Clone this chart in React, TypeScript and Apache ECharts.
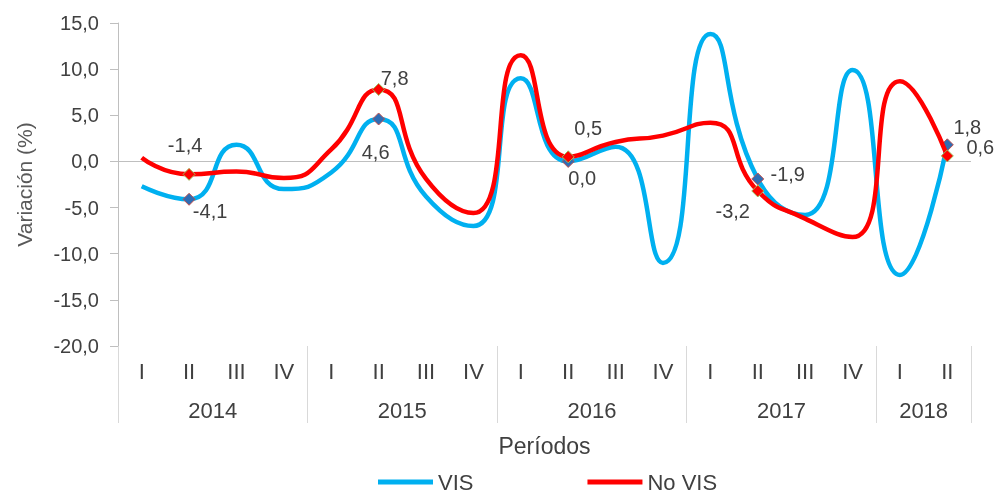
import React, { useEffect, useRef } from "react";
import * as echarts from "echarts";

const quarters = ["I", "II", "III", "IV", "I", "II", "III", "IV", "I", "II", "III", "IV", "I", "II", "III", "IV", "I", "II"];
const years = ["2014", "2015", "2016", "2017", "2018"];
const quartersPerYear = [4, 4, 4, 4, 2];
const vis = [-2.7, -4.1, 1.8, -3.0, -1.2, 4.6, -3.8, -7.0, 9.0, 0.0, 1.6, -11.0, 13.8, -1.9, -5.8, 9.9, -12.3, 1.8];
const noVis = [0.4, -1.4, -1.1, -1.8, 1.3, 7.8, -1.9, -5.6, 11.5, 0.5, 2.1, 2.8, 4.2, -3.2, -6.2, -8.2, 8.7, 0.6];
const labeledIdx = [1, 5, 9, 13, 17];

// label text-centre offsets from the point (style only)
const visLabelOffsets: Record<number, [number, number]> = {
  1: [21, 12], 5: [-3, 33], 9: [14, 17], 13: [30, -5], 17: [20, -18],
};
const noVisLabelOffsets: Record<number, [number, number]> = {
  1: [-4, -29], 5: [16, -11], 9: [20, -29], 13: [-25, 20], 17: [33, -9],
};

const FONT = "Liberation Sans, Arial, sans-serif";
const TXT = "#404040";
const AXIS = "#BFBFBF";
const fmt = (v: number) => v.toFixed(1).replace(".", ",");

export default function App() {
  const ref = useRef<HTMLDivElement>(null);
  useEffect(() => {
    if (!ref.current) return;
    const chart = echarts.init(ref.current, null, { renderer: "svg" });

    const bounds: number[] = [0];
    const mids: number[] = [];
    let acc = 0;
    quartersPerYear.forEach((n) => {
      mids.push(acc + n / 2);
      acc += n;
      bounds.push(acc);
    });

    const mkData = (arr: number[], offs: Record<number, [number, number]>) =>
      arr.map((v, i) =>
        labeledIdx.includes(i)
          ? {
              value: v,
              label: {
                show: true,
                position: "inside",
                offset: offs[i],
                formatter: () => fmt(v),
                color: TXT,
                fontSize: 20,
                fontFamily: FONT,
                align: "center",
                verticalAlign: "middle",
              },
            }
          : { value: v }
      );

    const symSize = (_v: any, p: any) => (labeledIdx.includes(p.dataIndex) ? 12 : 0);

    chart.setOption({
      animation: false,
      textStyle: { fontFamily: FONT },
      grid: { left: 118, right: 26, top: 23, bottom: 148 },
      legend: {
        left: 378,
        top: 471,
        padding: 0,
        icon: "rect",
        itemWidth: 55,
        itemHeight: 5,
        itemGap: 114,
        textStyle: { fontSize: 22, color: TXT, fontFamily: FONT },
        data: [
          { name: "VIS", itemStyle: { color: "#00B0F0", borderWidth: 0 } },
          { name: "No VIS", itemStyle: { color: "#FF0000", borderWidth: 0 } },
        ],
      },
      xAxis: [
        {
          type: "category",
          data: quarters,
          position: "bottom",
          axisLine: { show: false },
          axisTick: { show: false },
          axisLabel: { fontSize: 22, color: TXT, margin: 14, interval: 0, fontFamily: FONT },
          name: "Períodos",
          nameLocation: "middle",
          nameGap: 88,
          nameTextStyle: { fontSize: 23, color: TXT, fontFamily: FONT },
        },
        {
          type: "value",
          min: 0,
          max: acc,
          position: "bottom",
          axisLine: { show: false },
          splitLine: { show: false },
          axisTick: {
            show: true,
            customValues: bounds,
            length: 77,
            lineStyle: { color: "#D9D9D9", width: 1 },
          },
          axisLabel: {
            show: true,
            customValues: mids,
            formatter: (val: number) => {
              const k = mids.findIndex((m) => Math.abs(m - val) < 1e-6);
              return k >= 0 ? years[k] : "";
            },
            fontSize: 22,
            color: TXT,
            margin: 53,
            fontFamily: FONT,
          },
        },
      ],
      yAxis: {
        type: "value",
        min: -20,
        max: 15,
        interval: 5,
        axisLine: { show: true, lineStyle: { color: AXIS } },
        axisTick: { show: true, length: 8, lineStyle: { color: AXIS } },
        splitLine: { show: false },
        axisLabel: { formatter: (v: number) => fmt(v), fontSize: 20, color: TXT, margin: 19, fontFamily: FONT },
        name: "Variación (%)",
        nameLocation: "middle",
        nameGap: 83,
        nameTextStyle: { fontSize: 21, color: "#595959", fontFamily: FONT },
      },
      series: [
        {
          name: "VIS",
          type: "line",
          smooth: 0.55,
          data: mkData(vis, visLabelOffsets),
          symbol: "diamond",
          symbolSize: symSize,
          showSymbol: true,
          showAllSymbol: true,
          lineStyle: { color: "#00B0F0", width: 4.5 },
          itemStyle: { color: "#2E6DB4", borderColor: "#C0504D", borderWidth: 1 },
          z: 2,
          markLine: {
            silent: true,
            z: 1,
            symbol: ["none", "none"],
            label: { show: false },
            lineStyle: { color: AXIS, width: 1, type: "solid" },
            data: [{ yAxis: 0 }],
          },
        },
        {
          name: "No VIS",
          type: "line",
          smooth: 0.55,
          data: mkData(noVis, noVisLabelOffsets),
          symbol: "diamond",
          symbolSize: symSize,
          showSymbol: true,
          showAllSymbol: true,
          lineStyle: { color: "#FF0000", width: 4.5 },
          itemStyle: { color: "#FF0000", borderColor: "#9BBB59", borderWidth: 1 },
          z: 3,
        },
      ],
    });
    return () => chart.dispose();
  }, []);
  return <div ref={ref} style={{ position: "fixed", left: 0, top: 0, width: 997, height: 494 }} />;
}
